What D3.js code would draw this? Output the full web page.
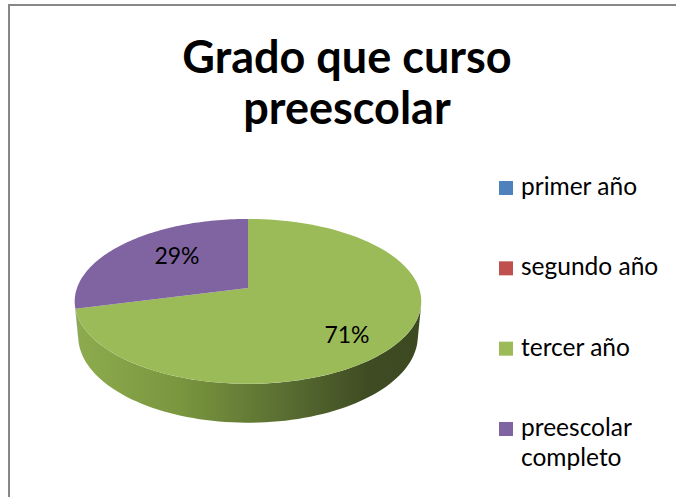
<!DOCTYPE html>
<html>
<head>
<meta charset="utf-8">
<script src="https://cdn.jsdelivr.net/npm/d3@7"></script>
<style>
  body { margin: 0; background: #fff; }
  svg text { font-family: Lato, "Open Sans", sans-serif; fill: #000; }
</style>
</head>
<body>
<div id="chart"></div>
<script>
// data
const categories = ["primer año", "segundo año", "tercer año", "preescolar completo"];
const values = [0, 0, 71, 29];
const colors = ["#4f81bd", "#c0504d", "#9bbb59", "#8064a2"];
const titleLines = ["Grado que curso", "preescolar"];

const width = 676, height = 497;
const svg = d3.select("#chart").append("svg").attr("width", width).attr("height", height);

// chart frame (cut by the window on right and bottom)
svg.append("rect")
    .attr("x", 9).attr("y", 5)
    .attr("width", 700).attr("height", 520)
    .attr("fill", "#fff")
    .attr("stroke", "#878787")
    .attr("stroke-width", 2);

// title
const title = svg.append("text").attr("text-anchor", "middle").attr("font-weight", "bold").attr("font-size", 45);
title.selectAll("tspan").data(titleLines).join("tspan")
    .attr("x", 347)
    .attr("y", (d, i) => 73 + i * 51)
    .text(d => d);

// 3d pie: perspective projection of a tilted disc
const pie = {cx: 248, cy: 288, r: 171, depth: 40, tilt: 28 * Math.PI / 180, f: 931};

function project(a, h){
    // a: angle clockwise from 12 o'clock, h: height (0 top, negative down)
    const x = pie.r * Math.sin(a);
    const z = -pie.r * Math.cos(a);
    const Y = z * Math.sin(pie.tilt) - h * Math.cos(pie.tilt);
    const D = z * Math.cos(pie.tilt) + h * Math.sin(pie.tilt);
    const s = pie.f / (pie.f - D);
    return [pie.cx + x * s, pie.cy + Y * s];
}

const arcs = d3.pie().sort(null).value(d => d)(values);

// visible part of the side wall (tangent points from the camera)
const camDist = pie.f * Math.cos(pie.tilt);
const beta = Math.acos(pie.r / camDist);
const sideStart = Math.PI - beta, sideEnd = Math.PI + beta;

const defs = svg.append("defs");
const sideGrad = defs.append("linearGradient")
    .attr("id", "side-green")
    .attr("gradientUnits", "userSpaceOnUse")
    .attr("x1", pie.cx - pie.r).attr("x2", pie.cx + pie.r)
    .attr("y1", 0).attr("y2", 0);
sideGrad.selectAll("stop")
    .data([[0, "#8dab4e"], [0.3, "#7a963f"], [0.6, "#5a6f32"], [0.85, "#3f4c23"], [1, "#3d4a21"]])
    .join("stop")
    .attr("offset", d => d[0])
    .attr("stop-color", d => d[1]);

const sideDark = {"#9bbb59": "url(#side-green)", "#8064a2": "#6a5387", "#4f81bd": "#41699a", "#c0504d": "#9d413f"};

const line = d3.line();
const steps = 80;

function arcPoints(a0, a1, h){
    return d3.range(steps + 1).map(i => project(a0 + (a1 - a0) * i / steps, h));
}

const pieGrp = svg.append("g").attr("class", "pie");

// side walls
arcs.forEach((d, i) => {
    const a0 = Math.max(d.startAngle, sideStart), a1 = Math.min(d.endAngle, sideEnd);
    if(a1 <= a0) return;
    const pts = arcPoints(a0, a1, 0).concat(arcPoints(a1, a0, -pie.depth));
    pieGrp.append("path")
        .attr("d", line(pts) + "Z")
        .attr("fill", sideDark[colors[i]]);
});

// top faces
arcs.forEach((d, i) => {
    if(d.endAngle - d.startAngle <= 0) return;
    const pts = [[pie.cx, pie.cy]].concat(arcPoints(d.startAngle, d.endAngle, 0));
    pieGrp.append("path")
        .attr("d", line(pts) + "Z")
        .attr("fill", colors[i]);
});

// data labels
const labelPos = {2: [347, 343], 3: [177, 264]};
arcs.forEach((d, i) => {
    if(d.value <= 0) return;
    const total = d3.sum(values);
    svg.append("text")
        .attr("x", labelPos[i][0]).attr("y", labelPos[i][1])
        .attr("text-anchor", "middle")
        .attr("font-size", 23)
        .text(Math.round(d.value / total * 100) + "%");
});

// legend
const legend = svg.append("g").attr("transform", "translate(499,181)");
const legendY = d3.scalePoint().domain(categories).range([0, 241]);
const item = legend.selectAll("g").data(categories).join("g")
    .attr("transform", d => `translate(0,${legendY(d)})`);
item.append("rect").attr("width", 14).attr("height", 14).attr("fill", (d, i) => colors[i]);
item.append("text")
    .attr("x", 22).attr("y", 14)
    .attr("font-size", 24.5)
    .each(function(d){
        const words = d === "preescolar completo" ? ["preescolar", "completo"] : [d];
        d3.select(this).selectAll("tspan").data(words).join("tspan")
            .attr("x", 22)
            .attr("dy", (w, j) => j === 0 ? 0 : 30)
            .text(w => w);
    });
</script>
</body>
</html>
